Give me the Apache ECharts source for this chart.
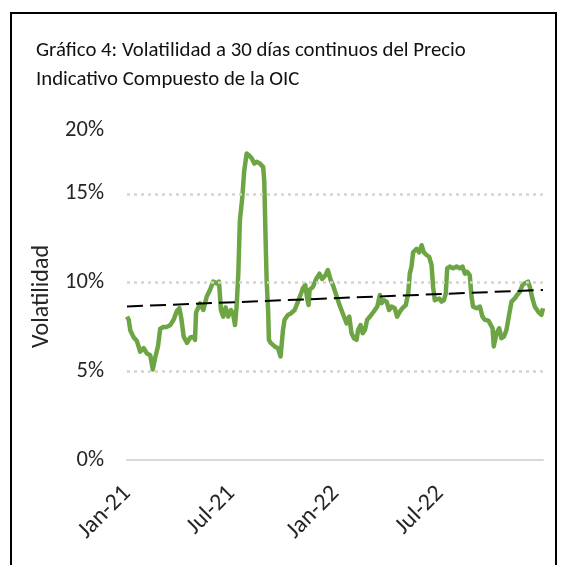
<!DOCTYPE html>
<html lang="es">
<head>
<meta charset="UTF-8">
<title>Volatilidad a 30 días - Precio Indicativo Compuesto OIC</title>
<script src="https://cdn.jsdelivr.net/npm/echarts@6.0.0/dist/echarts.min.js"></script>
<style>
  html, body { margin: 0; padding: 0; background: #fff; }
</style>
</head>
<body>
<div id="main" style="width: 569px; height: 565px;"></div>
<script type="text/javascript">
// meses transcurridos desde enero 2021 (posición en el eje x)
const meses = [
  0, 0.10, 0.19, 0.39, 0.57, 0.76, 0.96, 1.15, 1.34, 1.48, 1.63, 1.78, 1.91, 2.11, 2.30, 2.49,
  2.68, 2.87, 3.01, 3.12, 3.26, 3.45, 3.64, 3.83, 3.91, 3.97, 4.06, 4.20, 4.39, 4.58, 4.77, 4.96,
  5.16, 5.29, 5.40, 5.53, 5.67, 5.82, 5.98, 6.11, 6.21, 6.30, 6.40, 6.49, 6.63, 6.74, 6.88, 7.01,
  7.17, 7.32, 7.45, 7.64, 7.83, 7.89, 7.97, 8.03, 8.12, 8.16, 8.26, 8.49, 8.68, 8.83, 8.97, 9.06,
  9.25, 9.44, 9.64, 9.83, 9.98, 10.11, 10.25, 10.36, 10.44, 10.50, 10.69, 10.88, 11.07, 11.22, 11.40, 11.55,
  11.71, 11.84, 12.03, 12.22, 12.43, 12.63, 12.78, 12.91, 13.05, 13.20, 13.29, 13.43, 13.55, 13.68, 13.81, 13.97,
  14.12, 14.25, 14.39, 14.54, 14.64, 14.77, 14.93, 15.07, 15.21, 15.40, 15.53, 15.69, 15.84, 16.03, 16.17, 16.26,
  16.36, 16.45, 16.65, 16.80, 16.94, 17.07, 17.22, 17.37, 17.51, 17.60, 17.70, 17.80, 17.95, 18.09, 18.22, 18.33,
  18.41, 18.56, 18.75, 18.95, 19.14, 19.29, 19.43, 19.56, 19.71, 19.81, 19.90, 20.10, 20.29, 20.44, 20.57, 20.78,
  20.86, 21.02, 21.09, 21.25, 21.40, 21.53, 21.67, 21.82, 21.97, 22.11, 22.30, 22.43, 22.59, 22.74, 22.87, 23.06,
  23.16, 23.31, 23.45, 23.64, 23.83, 23.92
];
// volatilidad (%)
const volatilidad = [
  8.08, 7.9, 7.3, 6.9, 6.7, 6.1, 6.3, 6.0, 5.9, 5.1, 5.8, 6.4, 7.4, 7.5, 7.5, 7.6,
  7.9, 8.4, 8.55, 8.0, 6.95, 6.6, 6.9, 6.95, 6.77, 8.3, 8.27, 8.83, 8.45, 9.2, 9.58, 10.05,
  9.95, 10.05, 8.45, 8.08, 8.6, 8.08, 8.45, 8.17, 7.6, 8.6, 10.5, 13.5, 14.8, 16.3, 17.27, 17.17,
  17.0, 16.7, 16.8, 16.7, 16.5, 15.76, 12.4, 10.1, 8.27, 6.77, 6.6, 6.4, 6.3, 5.83, 7.33, 7.9,
  8.17, 8.27, 8.45, 8.92, 9.3, 9.67, 9.86, 9.1, 8.73, 9.58, 9.76, 10.2, 10.5, 10.2, 10.4, 10.7,
  10.14, 9.86, 9.3, 8.73, 8.2, 7.7, 8.08, 7.14, 6.86, 6.77, 7.33, 7.6, 7.14, 7.33, 7.9, 8.08,
  8.27, 8.45, 8.64, 9.3, 8.83, 9.0, 8.92, 8.45, 8.64, 8.55, 8.08, 8.36, 8.55, 8.73, 9.39, 10.5,
  10.9, 11.7, 11.9, 11.7, 12.1, 11.7, 11.55, 11.45, 11.0, 9.76, 9.0, 8.92, 9.1, 8.92, 9.0, 9.39,
  10.8, 10.9, 10.8, 10.9, 10.8, 10.9, 10.5, 10.6, 10.4, 9.2, 8.64, 8.55, 8.64, 8.08, 7.9, 7.85,
  7.8, 7.42, 6.4, 7.14, 7.42, 6.86, 6.95, 7.33, 8.17, 8.92, 9.1, 9.3, 9.48, 9.86, 9.95, 10.05,
  9.76, 9.1, 8.64, 8.36, 8.17, 8.55
];
// tendencia lineal (inicio y fin)
const tendenciaX = [0, 23.92];
const tendenciaY = [8.65, 9.58];

const etiquetasX = ['Jan-21', 'Jul-21', 'Jan-22', 'Jul-22'];
const lineasGuia = [5, 10, 15];

const fuente = 'Calibri, Carlito, Lato, sans-serif';

var grafico = echarts.init(document.getElementById('main'));

var option = {
  animation: false,
  title: {
    text: 'Gráfico 4: Volatilidad a 30 días continuos del Precio\nIndicativo Compuesto de la OIC',
    left: 31,
    top: 31,
    textStyle: {
      fontFamily: fuente,
      fontSize: 20.8,
      fontWeight: 'normal',
      color: '#111',
      lineHeight: 29
    }
  },
  grid: { left: 127, right: 26, top: 105, bottom: 105 },
  xAxis: {
    type: 'value',
    min: 0,
    max: 23.92,
    interval: 6,
    splitLine: { show: false },
    axisTick: { show: false },
    axisLine: { lineStyle: { color: '#d9d9d9', width: 2 } },
    axisLabel: {
      rotate: 45,
      margin: 30,
      fontFamily: fuente,
      fontSize: 24,
      color: '#262626',
      formatter: function (v) { return etiquetasX[Math.round(v / 6)] || ''; }
    }
  },
  yAxis: {
    type: 'value',
    min: 0,
    max: 20,
    interval: 5,
    name: 'Volatilidad',
    nameLocation: 'middle',
    nameRotate: 90,
    nameGap: 62,
    nameTextStyle: {
      fontFamily: fuente,
      fontSize: 24,
      color: '#262626',
      padding: [0, 28, 0, 0]
    },
    splitLine: { show: false },
    axisLine: { show: false },
    axisTick: { show: false },
    axisLabel: {
      margin: 23,
      fontFamily: fuente,
      fontSize: 22.5,
      color: '#262626',
      formatter: function (v) { return v === 20 ? '{bajo|' + v + '%}' : v + '%'; },
      rich: {
        bajo: { fontFamily: fuente, fontSize: 22.5, color: '#262626', padding: [50, 0, 0, 0] }
      }
    }
  },
  series: [
    {
      name: 'Volatilidad',
      type: 'line',
      data: meses.map((m, i) => [m, volatilidad[i]]),
      showSymbol: false,
      lineStyle: { color: '#6ea544', width: 4.5, join: 'round' },
      z: 2,
      markLine: {
        silent: true,
        symbol: 'none',
        label: { show: false },
        lineStyle: { color: '#d4d4d4', width: 2.5, type: [3, 4] },
        data: lineasGuia.map(v => ({ yAxis: v }))
      }
    },
    {
      name: 'Tendencia',
      type: 'line',
      data: tendenciaX.map((m, i) => [m, tendenciaY[i]]),
      showSymbol: false,
      lineStyle: { color: '#000', width: 2, type: [16, 7] },
      z: 3
    }
  ],
  graphic: [
    {
      type: 'rect',
      shape: { x: 11, y: 13, width: 545, height: 600 },
      style: { fill: 'none', stroke: '#000', lineWidth: 2 },
      silent: true
    }
  ]
};

grafico.setOption(option);
</script>
</body>
</html>
